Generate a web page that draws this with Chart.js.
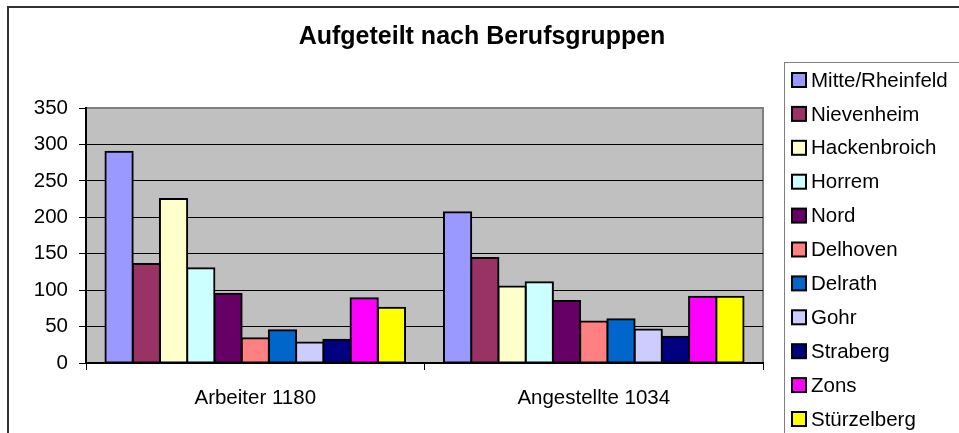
<!DOCTYPE html>
<html>
<head>
<meta charset="utf-8">
<script src="https://cdn.jsdelivr.net/npm/chart.js@4"></script>
<style>
  body { margin: 0; background: #fff; }
  #wrap { width: 959px; height: 433px; }
</style>
</head>
<body>
<div id="wrap"><canvas id="chart" width="959" height="433"></canvas></div>
<script>
const categories = ["Arbeiter 1180", "Angestellte 1034"];
const districts = ["Mitte/Rheinfeld", "Nievenheim", "Hackenbroich", "Horrem", "Nord", "Delhoven",
  "Delrath", "Gohr", "Straberg", "Zons", "Stürzelberg"];
const arbeiter = [290, 136, 225, 130, 95, 34, 45, 28, 32, 89, 76];
const angestellte = [207, 144, 105, 111, 85, 57, 60, 46, 36, 91, 91];
const colors = ["#9999FF", "#993366", "#FFFFCC", "#CCFFFF", "#660066", "#FF8080",
  "#0066CC", "#CCCCFF", "#000080", "#FF00FF", "#FFFF00"];
const yTicks = [0, 50, 100, 150, 200, 250, 300, 350];

const FONT = "'Liberation Sans', Arial, sans-serif";

// plot background + frames + title + legend
const decor = {
  id: 'decor',
  beforeDraw(chart) {
    const { ctx, chartArea: a } = chart;
    ctx.save();
    ctx.fillStyle = '#fff';
    ctx.fillRect(0, 0, chart.width, chart.height);
    ctx.fillStyle = '#C0C0C0';
    ctx.fillRect(a.left, a.top, a.right - a.left, a.bottom - a.top);
    ctx.strokeStyle = '#808080';
    ctx.lineWidth = 2;
    ctx.beginPath();
    ctx.moveTo(a.left, a.top);
    ctx.lineTo(a.right, a.top);
    ctx.lineTo(a.right, a.bottom);
    ctx.stroke();
    ctx.restore();
  },
  afterDraw(chart) {
    const { ctx } = chart;
    ctx.save();
    // outer frame
    ctx.strokeStyle = '#333';
    ctx.lineWidth = 2;
    ctx.strokeRect(8, 7, chart.width + 20, chart.height + 20);
    // title
    ctx.fillStyle = '#000';
    ctx.font = "bold 25px " + FONT;
    ctx.textAlign = 'center';
    ctx.textBaseline = 'alphabetic';
    ctx.fillText("Aufgeteilt nach Berufsgruppen", 482, 44);
    // legend box
    ctx.strokeStyle = '#808080';
    ctx.lineWidth = 1;
    ctx.strokeRect(784.5, 62.5, 300, 400);
    ctx.font = "20.5px " + FONT;
    ctx.textAlign = 'left';
    ctx.textBaseline = 'middle';
    chart.data.datasets.forEach((ds, i) => {
      const y = 80 + i * 33.9;
      ctx.fillStyle = ds.backgroundColor;
      ctx.fillRect(792, y - 7, 14, 14);
      ctx.strokeStyle = '#000';
      ctx.lineWidth = 2;
      ctx.strokeRect(792, y - 7, 14, 14);
      ctx.fillStyle = '#000';
      ctx.fillText(ds.label, 811, y + 1);
    });
    ctx.restore();
  }
};

new Chart(document.getElementById('chart'), {
  type: 'bar',
  data: {
    labels: categories,
    datasets: districts.map((d, i) => ({
      label: d,
      data: [arbeiter[i], angestellte[i]],
      backgroundColor: colors[i],
      borderColor: '#000',
      borderWidth: 2,
      borderSkipped: false,
      inflateAmount: 1,
      categoryPercentage: 0.885,
      barPercentage: 1.0
    }))
  },
  options: {
    responsive: false,
    animation: false,
    datasets: { bar: { categoryPercentage: 0.885, barPercentage: 1.0 } },
    layout: { padding: { left: 0, top: 108, right: 196, bottom: 0 } },
    plugins: { legend: { display: false }, title: { display: false }, tooltip: { enabled: false } },
    scales: {
      x: {
        afterFit: s => { s.height = 70; },
        grid: { drawOnChartArea: false, drawTicks: true, tickLength: 7, color: '#000', offset: true },
        border: { display: true, color: '#000', width: 2 },
        ticks: { color: '#000', font: { family: FONT, size: 20.5 }, padding: 16 }
      },
      y: {
        min: 0,
        max: 350,
        afterFit: s => { s.width = 86; },
        afterBuildTicks: s => { s.ticks = yTicks.map(v => ({ value: v })); },
        grid: {
          color: c => c.tick && c.tick.value === 350 ? 'rgba(0,0,0,0)' : '#000',
          lineWidth: 1,
          tickLength: 7,
          tickColor: '#000'
        },
        border: { display: true, color: '#000', width: 2 },
        ticks: { color: '#000', font: { family: FONT, size: 20.5 }, padding: 11 }
      }
    }
  },
  plugins: [decor]
});
</script>
</body>
</html>
